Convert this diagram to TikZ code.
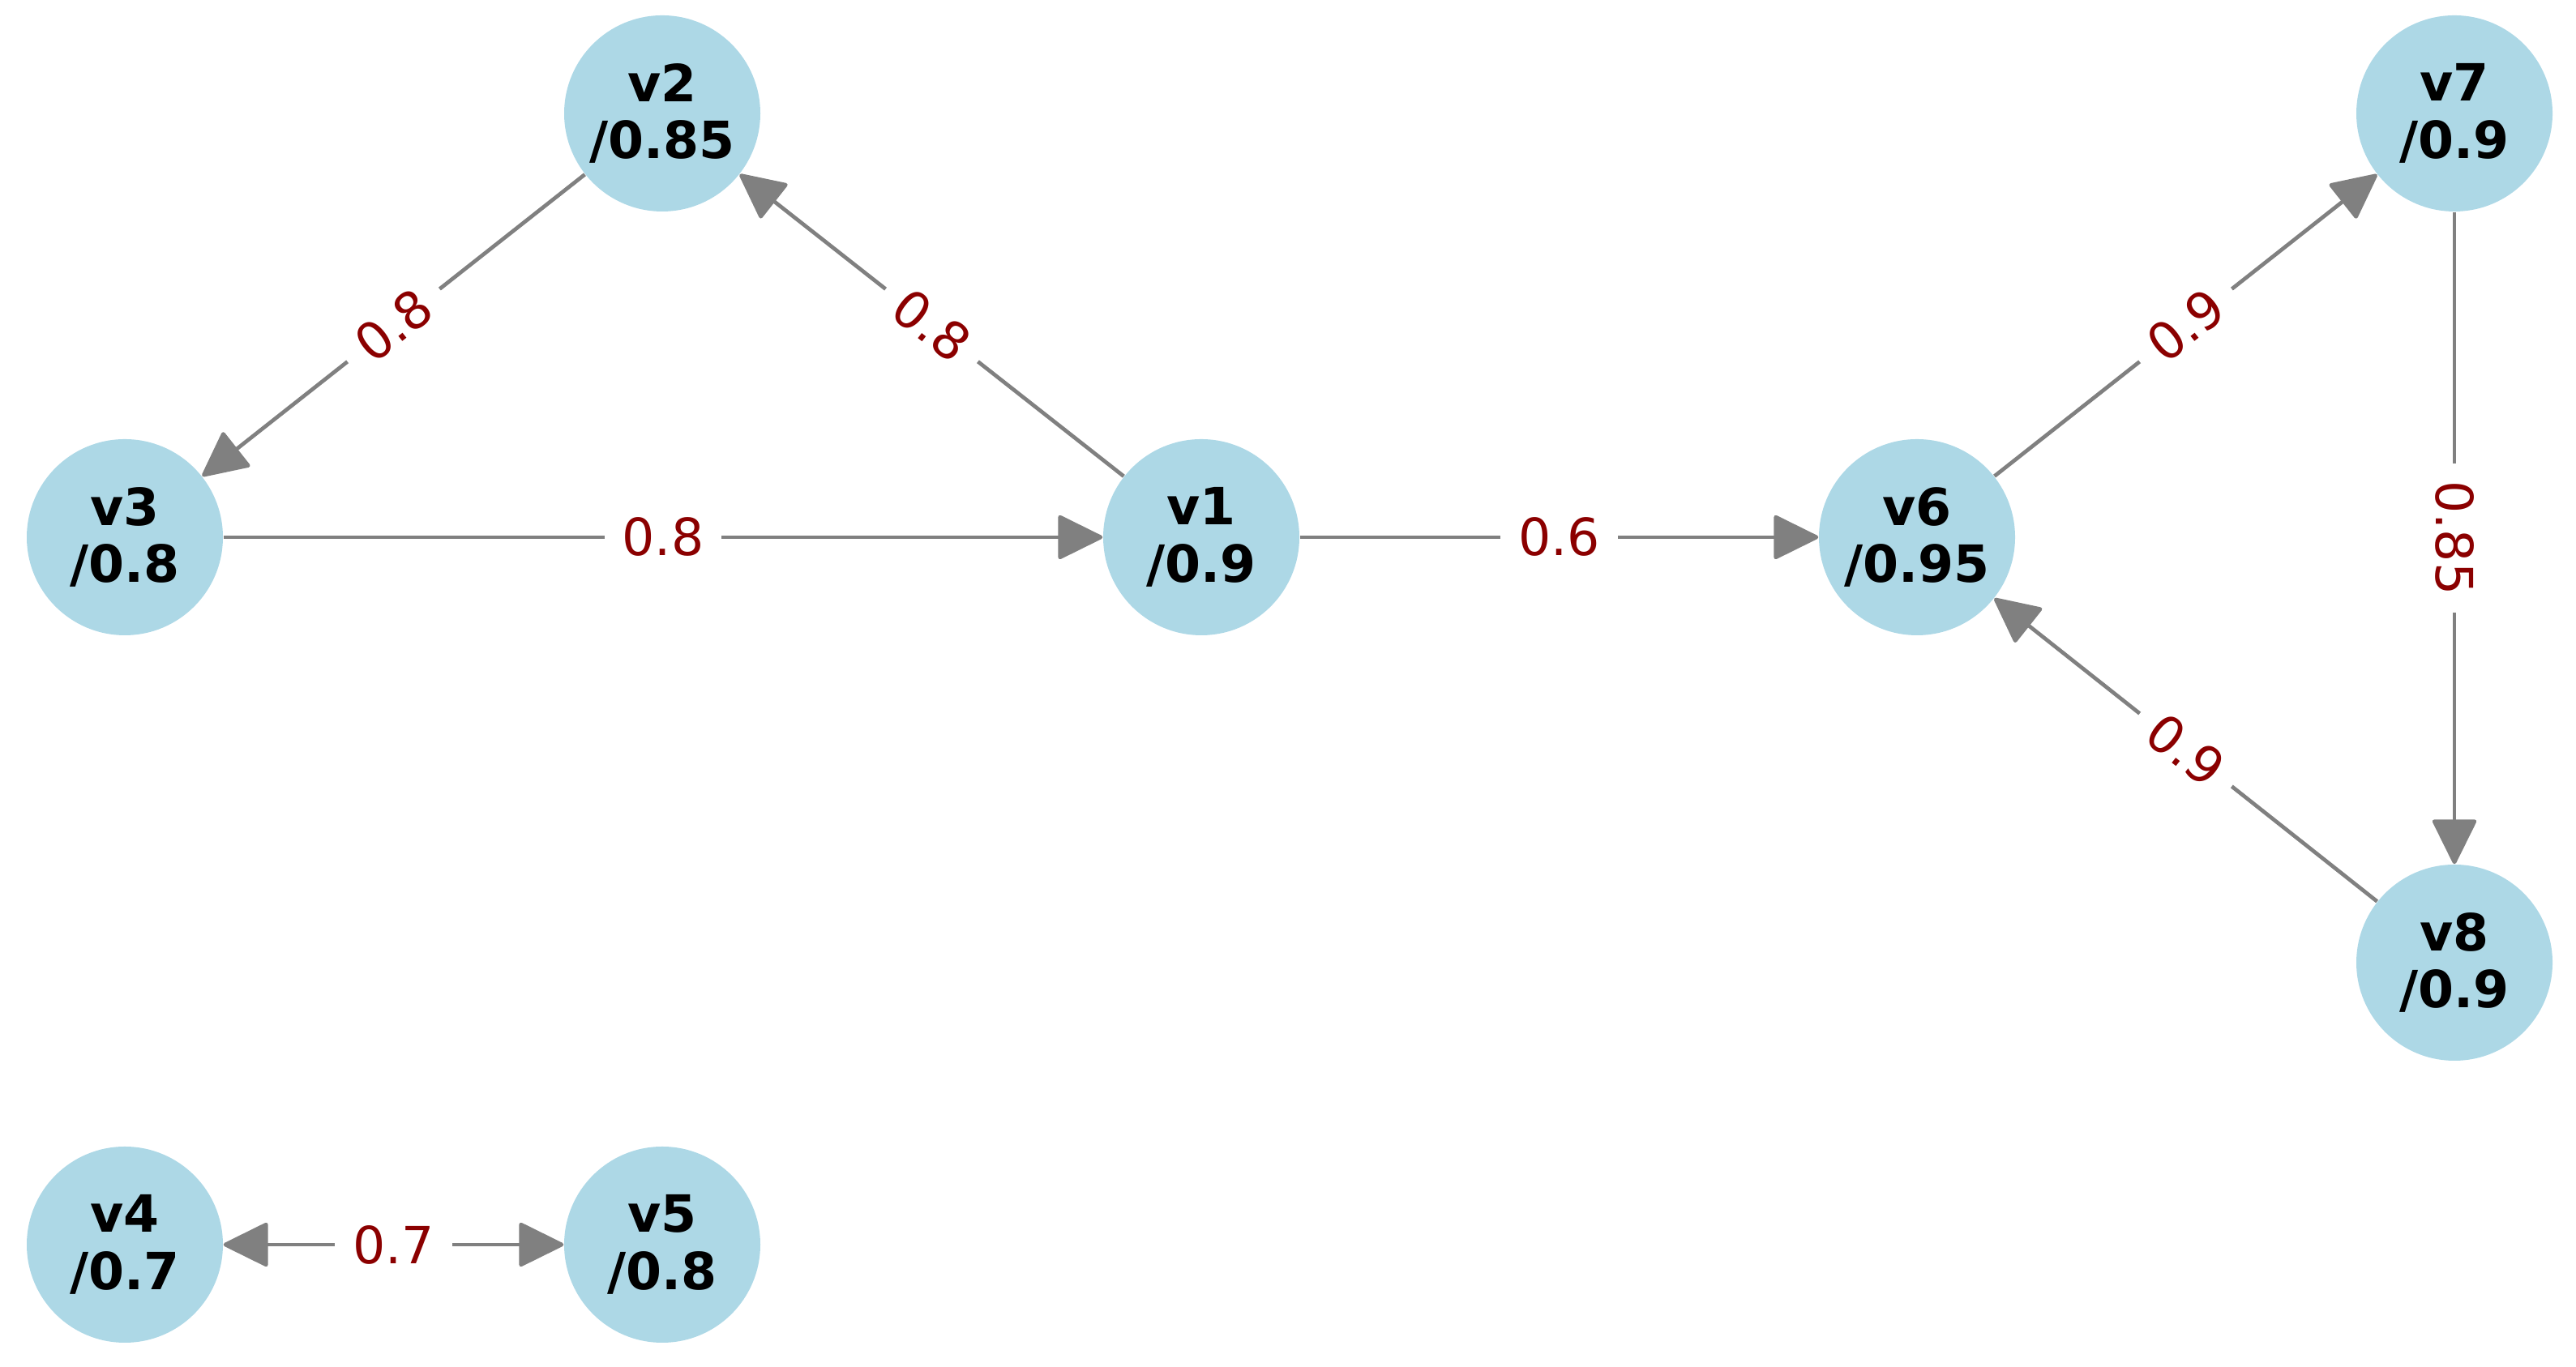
\documentclass[tikz,border=0pt]{standalone}
\usepackage{fontspec}
\setmainfont{DejaVu Sans}
\usetikzlibrary{arrows.meta}
\definecolor{nodeblue}{RGB}{173,216,230}
\definecolor{edgegray}{RGB}{128,128,128}
\definecolor{labelred}{RGB}{139,0,0}
\begin{document}
\begin{tikzpicture}[
		vertex/.style={circle, fill=nodeblue, minimum size=2.42cm, inner sep=0pt,
			align=center, font=\fontsize{18}{20}\selectfont\bfseries},
		edge/.style={draw=edgegray, line width=1.35pt,
			-{Triangle[length=5.8mm, width=5.6mm, round]}},
		weight/.style={sloped, fill=white, inner sep=0.22cm, text=labelred,
			font=\fontsize{18}{20}\selectfont}
	]
		\useasboundingbox (0,0) rectangle (31.78,16.87);

		\node [vertex] (v2) at (8.17,15.47) {v2\\/0.85};
		\node [vertex] (v3) at (1.54,10.24) {v3\\/0.8};
		\node [vertex] (v1) at (14.82,10.24) {v1\\/0.9};
		\node [vertex] (v6) at (23.65,10.24) {v6\\/0.95};
		\node [vertex] (v7) at (30.28,15.47) {v7\\/0.9};
		\node [vertex] (v8) at (30.28,4.99) {v8\\/0.9};
		\node [vertex] (v4) at (1.54,1.51) {v4\\/0.7};
		\node [vertex] (v5) at (8.17,1.51) {v5\\/0.8};

		\draw [edge] (v3) -- node [weight] {0.8} (v1);
		\draw [edge] (v1) -- node [weight] {0.8} (v2);
		\draw [edge] (v2) -- node [weight] {0.8} (v3);
		\draw [edge] (v1) -- node [weight] {0.6} (v6);
		\draw [edge] (v6) -- node [weight] {0.9} (v7);
		\draw [edge] (v7) -- node [weight] {0.85} (v8);
		\draw [edge] (v8) -- node [weight] {0.9} (v6);

		% v4 and v5 point at each other
		\draw [edge, {Triangle[length=5.8mm, width=5.6mm, round]}-{Triangle[length=5.8mm, width=5.6mm, round]}]
			(v4) -- node [weight] {0.7} (v5);
	\end{tikzpicture}
\end{document}
